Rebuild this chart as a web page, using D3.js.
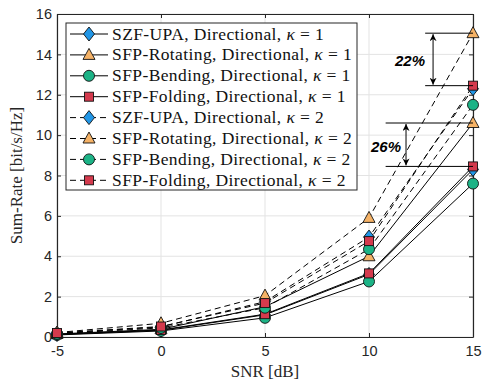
<!DOCTYPE html>
<html><head><meta charset="utf-8">
<script src="https://cdn.jsdelivr.net/npm/d3@7"></script>
<style>body{margin:0;background:#fff}svg{display:block}</style>
</head><body>
<script>
const snr = [-5, 0, 5, 10, 15];
const xTicks = [-5, 0, 5, 10, 15];
const yTicks = [0, 2, 4, 6, 8, 10, 12, 14, 16];
const szf1  = [0.12, 0.33, 1.10, 3.10, 8.30];
const rot1  = [0.15, 0.38, 1.50, 4.00, 10.60];
const bend1 = [0.10, 0.30, 0.95, 2.75, 7.60];
const fold1 = [0.13, 0.35, 1.13, 3.15, 8.45];
const szf2  = [0.18, 0.50, 1.75, 4.95, 12.30];
const rot2  = [0.22, 0.68, 2.05, 5.90, 15.05];
const bend2 = [0.16, 0.45, 1.45, 4.35, 11.50];
const fold2 = [0.20, 0.52, 1.68, 4.75, 12.45];
const names = ["SZF-UPA", "SFP-Rotating", "SFP-Bending", "SFP-Folding"];
const kappas = [1, 2];
const gains = [{text: "22%", hi: 15.05, lo: 12.45, x0: 12.7, xa: 13.08, lx: 11.97, ly: 13.4},
               {text: "26%", hi: 10.60, lo: 8.45, x0: 10.8, xa: 11.78, lx: 10.82, ly: 9.15}];

const series = [
  {name: names[0], k: kappas[0], v: szf1, m: "diamond"},
  {name: names[1], k: kappas[0], v: rot1, m: "triangle"},
  {name: names[2], k: kappas[0], v: bend1, m: "circle"},
  {name: names[3], k: kappas[0], v: fold1, m: "square"},
  {name: names[0], k: kappas[1], v: szf2, m: "diamond"},
  {name: names[1], k: kappas[1], v: rot2, m: "triangle"},
  {name: names[2], k: kappas[1], v: bend2, m: "circle"},
  {name: names[3], k: kappas[1], v: fold2, m: "square"}
];
const colors = {diamond: "#2196e6", triangle: "#f5b266", circle: "#1cb386", square: "#d43a4d"};

const W = 482, H = 383;
const m = {l: 57, r: 9, t: 14, b: 46};
const svg = d3.select("body").append("svg").attr("width", W).attr("height", H);
const x = d3.scaleLinear().domain([-5, 15]).range([m.l, W - m.r]);
const y = d3.scaleLinear().domain([0, 16]).range([H - m.b, m.t]);

// grid
const g = svg.append("g");
g.selectAll(".gx").data(xTicks).join("line").attr("x1", d => x(d)).attr("x2", d => x(d))
  .attr("y1", y(0)).attr("y2", y(16)).attr("stroke", "#e3e3e3").attr("stroke-width", 1);
g.selectAll(".gy").data(yTicks).join("line").attr("y1", d => y(d)).attr("y2", d => y(d))
  .attr("x1", x(-5)).attr("x2", x(15)).attr("stroke", "#e3e3e3").attr("stroke-width", 1);

// axes
const fmt = d => String(d);
const ax = svg.append("g").attr("transform", `translate(0,${y(0)})`)
  .call(d3.axisBottom(x).tickValues(xTicks).tickFormat(fmt).tickSizeInner(-4).tickSizeOuter(0).tickPadding(9));
const ay = svg.append("g").attr("transform", `translate(${x(-5)},0)`)
  .call(d3.axisLeft(y).tickValues(yTicks).tickFormat(fmt).tickSizeInner(-4).tickSizeOuter(0).tickPadding(5));
const axT = svg.append("g").attr("transform", `translate(0,${y(16)})`)
  .call(d3.axisTop(x).tickValues(xTicks).tickSizeInner(-4).tickSizeOuter(0).tickFormat(""));
const ayR = svg.append("g").attr("transform", `translate(${x(15)},0)`)
  .call(d3.axisRight(y).tickValues(yTicks).tickSizeInner(-4).tickSizeOuter(0).tickFormat(""));
[ax, ay, axT, ayR].forEach(a => {
  a.selectAll("path").attr("stroke", "#262626").attr("stroke-width", 1.2);
  a.selectAll("line").attr("stroke", "#262626");
  a.selectAll("text").attr("font-family", "Liberation Sans, Arial, sans-serif").attr("font-size", 14.5).attr("fill", "#262626");
});

// axis labels
svg.append("text").attr("x", (x(-5) + x(15)) / 2).attr("y", 377).attr("text-anchor", "middle")
  .attr("font-family", "Liberation Serif, serif").attr("font-size", 17).attr("fill", "#262626").text("SNR [dB]");
svg.append("text").attr("transform", `translate(22,${(y(0) + y(16)) / 2}) rotate(-90)`).attr("text-anchor", "middle")
  .attr("font-family", "Liberation Serif, serif").attr("font-size", 17).attr("fill", "#262626").text("Sum-Rate [bit/s/Hz]");

// marker helper
function marker(sel, type, cx, cy) {
  const c = colors[type];
  if (type === "diamond") sel.append("path").attr("d", `M${cx},${cy-7}L${cx+5.5},${cy}L${cx},${cy+7}L${cx-5.5},${cy}Z`);
  else if (type === "triangle") sel.append("path").attr("d", `M${cx},${cy-6.5}L${cx+6},${cy+4.5}L${cx-6},${cy+4.5}Z`);
  else if (type === "circle") sel.append("circle").attr("cx", cx).attr("cy", cy).attr("r", 5.5);
  else sel.append("rect").attr("x", cx - 4.5).attr("y", cy - 4.5).attr("width", 9).attr("height", 9);
  sel.selectAll(":scope > *:last-child").attr("fill", c).attr("stroke", "#111").attr("stroke-width", 0.9);
}

// lines
const line = d3.line().x((d, i) => x(snr[i])).y(d => y(d));
series.forEach(s => {
  svg.append("path").attr("d", line(s.v)).attr("fill", "none").attr("stroke", "#000")
    .attr("stroke-width", 1).attr("stroke-dasharray", s.k === 2 ? "6,4" : null);
});
series.forEach(s => {
  const gm = svg.append("g");
  s.v.forEach((d, i) => marker(gm, s.m, x(snr[i]), y(d)));
});

// annotations
const defs = svg.append("defs");
defs.append("marker").attr("id", "ah").attr("viewBox", "0 0 10 10").attr("refX", 10).attr("refY", 5)
  .attr("markerWidth", 7).attr("markerHeight", 7).attr("orient", "auto-start-reverse")
  .append("path").attr("d", "M0,0L10,5L0,10L3,5Z").attr("fill", "#000");
gains.forEach(a => {
  [a.hi, a.lo].forEach(v => svg.append("line").attr("x1", x(a.x0)).attr("x2", x(15))
    .attr("y1", y(v)).attr("y2", y(v)).attr("stroke", "#000").attr("stroke-width", 1));
  svg.append("line").attr("x1", x(a.xa)).attr("x2", x(a.xa)).attr("y1", y(a.hi) + 1).attr("y2", y(a.lo) - 1)
    .attr("stroke", "#000").attr("stroke-width", 1)
    .attr("marker-start", "url(#ah)").attr("marker-end", "url(#ah)");
  svg.append("text").attr("x", x(a.lx)).attr("y", y(a.ly)).attr("text-anchor", "middle")
    .attr("font-family", "Liberation Sans, Arial, sans-serif").attr("font-size", 15)
    .attr("font-weight", "bold").attr("font-style", "italic").text(a.text);
});

// legend
const lg = svg.append("g");
const lx0 = 66, ly0 = 23, rowH = 20.9;
lg.append("rect").attr("x", lx0).attr("y", ly0).attr("width", 291).attr("height", 167)
  .attr("fill", "#fff").attr("stroke", "#262626").attr("stroke-width", 1);
series.forEach((s, i) => {
  const cy = ly0 + 11 + i * rowH;
  lg.append("line").attr("x1", 70).attr("x2", 108).attr("y1", cy).attr("y2", cy)
    .attr("stroke", "#000").attr("stroke-width", 1).attr("stroke-dasharray", s.k === 2 ? "6,4" : null);
  const gm = lg.append("g");
  marker(gm, s.m, 89, cy);
  const t = lg.append("text").attr("x", 112).attr("y", cy + 5.5).attr("font-family", "Liberation Serif, serif")
    .attr("font-size", 17.5).attr("letter-spacing", 0.4).attr("fill", "#111");
  t.append("tspan").text(`${s.name}, Directional, `);
  t.append("tspan").attr("font-style", "italic").text("κ");
  t.append("tspan").text(` = ${s.k}`);
});
</script>
</body></html>
